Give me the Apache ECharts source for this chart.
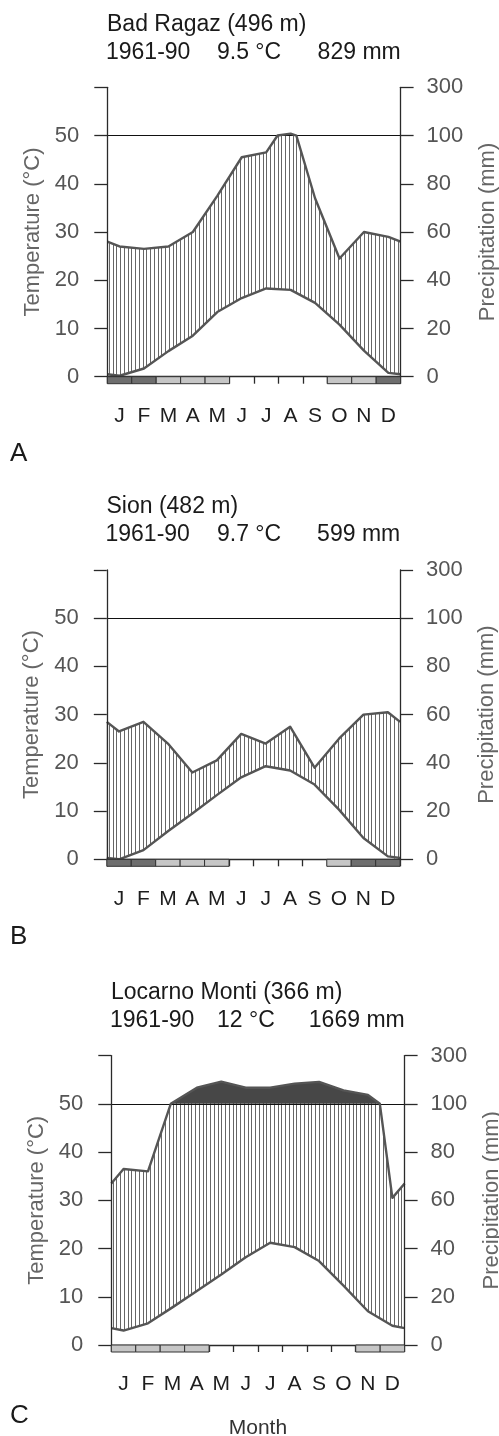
<!DOCTYPE html>
<html>
<head>
<meta charset="utf-8">
<script src="https://cdn.jsdelivr.net/npm/echarts@6/dist/echarts.min.js"></script>
<style>
html,body{margin:0;padding:0;background:#ffffff;overflow:hidden;}
#chart{width:499px;height:1436px;}
</style>
</head>
<body>
<div id="chart"></div>
<script>
// ---------- data ----------
const months = ['J','F','M','A','M','J','J','A','S','O','N','D'];
const leftTickLabels = ['0','10','20','30','40','50',''];
const rightTickLabels = ['0','20','40','60','80','100','300'];

const stationNames = ['Bad Ragaz (496 m)', 'Sion (482 m)', 'Locarno Monti (366 m)'];
const periods = ['1961-90', '1961-90', '1961-90'];
const meanTemps = ['9.5 °C', '9.7 °C', '12 °C'];
const totals = ['829 mm', '599 mm', '1669 mm'];
const panelLetters = ['A', 'B', 'C'];

// monthly mean temperature (°C)
const tempA = [0.2, 1.7, 5.3, 8.5, 13.4, 16.3, 18.3, 18.0, 15.3, 10.8, 5.4, 0.8];
const tempB = [0.0, 1.9, 5.8, 9.5, 13.3, 17.0, 19.3, 18.4, 15.5, 10.3, 4.4, 0.6];
const tempC = [3.0, 4.5, 7.8, 11.2, 14.6, 18.2, 21.2, 20.3, 17.4, 12.3, 7.0, 4.0];

// monthly precipitation (mm)
const precA = [54, 53, 54, 60, 75, 91, 93, 108, 74, 49, 60, 58];
const precB = [53, 57, 48, 36, 41, 52, 48, 55, 38, 50, 60, 61];
const precC = [73, 72, 102, 167, 192, 167, 167, 184, 191, 156, 137, 61];

// frost indicator: 2 = sure frost (dark), 1 = probable frost (light), 0 = none
const frostA = [2, 2, 1, 1, 1, 0, 0, 0, 0, 1, 1, 2];
const frostB = [2, 2, 1, 1, 1, 0, 0, 0, 0, 1, 2, 2];
const frostC = [1, 1, 1, 1, 0, 0, 0, 0, 0, 0, 1, 1];

const panels = [
  {temp: tempA, prec: precA, frost: frostA},
  {temp: tempB, prec: precB, frost: frostB},
  {temp: tempC, prec: precC, frost: frostC}
];

// ---------- layout ----------
const FONT = "'Liberation Sans', Arial, Helvetica, sans-serif";
const layout = [
  {ox: 0,    oy: 0,     letterTop: 441},
  {ox: -0.5, oy: 482.6, letterTop: 924},
  {ox: 4,    oy: 968.3, letterTop: 1403}
];

// ---------- helpers ----------
// Walter-Lieth scale: 0-100 mm -> 0-50 (2 mm per °C), above 100 mm -> 20 mm per °C
function scaleP(p) { return p <= 100 ? p / 2 : 50 + (p - 100) / 20; }

function precipPath(prec) {
  const edge = (prec[0] + prec[11]) / 2;
  const pts = [[0, edge]];
  prec.forEach((v, i) => pts.push([i + 0.5, v]));
  pts.push([12, edge]);
  const out = [];
  for (let k = 0; k < pts.length; k++) {
    if (k > 0) {
      const a = pts[k - 1], b = pts[k];
      if ((a[1] - 100) * (b[1] - 100) < 0) {
        const f = (100 - a[1]) / (b[1] - a[1]);
        out.push([a[0] + f * (b[0] - a[0]), 100]);
      }
    }
    out.push(pts[k]);
  }
  return out.map(p => [p[0], scaleP(p[1])]);
}

function tempPath(t) {
  const edge = (t[0] + t[11]) / 2;
  return [[0, edge]].concat(t.map((v, i) => [i + 0.5, v]), [[12, edge]]);
}

// hatch pattern (vertical lines)
const pat = document.createElement('canvas');
pat.width = 15; pat.height = 4;
const pctx = pat.getContext('2d');
pctx.fillStyle = '#ffffff';
pctx.fillRect(0, 0, 15, 4);
pctx.fillStyle = '#666666';
[0, 4, 8, 11].forEach(x => pctx.fillRect(x, 0, 1, 4));

// ---------- build option ----------
const grids = [], xAxes = [], yAxes = [], series = [], titles = [];
const AX = '#2a2a2a';

panels.forEach((pd, gi) => {
  const L = layout[gi];
  grids.push({left: 107.3 + L.ox, top: 87.3 + L.oy, width: 293.3, height: 289.4,
    containLabel: false, outerBoundsMode: 'none'});

  xAxes.push({
    type: 'value', gridIndex: gi, min: 0, max: 12, interval: 1, z: 10,
    axisLine: {show: true, onZero: false, lineStyle: {color: AX, width: 1.3}},
    axisTick: {show: true, length: 7, lineStyle: {color: AX, width: 1.3}},
    axisLabel: {show: false}, splitLine: {show: false}
  });
  xAxes.push({
    type: 'category', gridIndex: gi, data: months, boundaryGap: true, position: 'bottom',
    axisLine: {show: false}, axisTick: {show: false}, splitLine: {show: false},
    axisLabel: {interval: 0, margin: 29, fontSize: 21, color: '#1e1e1e', fontFamily: FONT},
    name: gi === 2 ? 'Month' : '', nameLocation: 'middle', nameGap: 73,
    nameTextStyle: {fontSize: 21, color: '#333333', fontFamily: FONT}
  });

  yAxes.push({
    type: 'value', gridIndex: gi, position: 'left', min: 0, max: 60, interval: 10, z: 10,
    axisLine: {show: true, lineStyle: {color: AX, width: 1.3}},
    axisTick: {show: true, length: 13, lineStyle: {color: AX, width: 1.3}},
    axisLabel: {margin: 28, fontSize: 22, color: '#555555', fontFamily: FONT,
      formatter: v => leftTickLabels[Math.round(v / 10)]},
    splitLine: {show: false},
    name: 'Temperature (°C)', nameLocation: 'middle', nameGap: 63, nameRotate: 90,
    nameTextStyle: {fontSize: 22, color: '#666666', fontFamily: FONT}
  });
  yAxes.push({
    type: 'value', gridIndex: gi, position: 'right', min: 0, max: 60, interval: 10, z: 10,
    axisLine: {show: true, lineStyle: {color: AX, width: 1.3}},
    axisTick: {show: true, length: 13, lineStyle: {color: AX, width: 1.3}},
    axisLabel: {margin: 26, fontSize: 22, color: '#555555', fontFamily: FONT,
      formatter: v => rightTickLabels[Math.round(v / 10)]},
    splitLine: {show: false},
    name: 'Precipitation (mm)', nameLocation: 'middle', nameGap: 76, nameRotate: 90,
    nameTextStyle: {fontSize: 22, color: '#666666', fontFamily: FONT}
  });

  const xi = gi * 2, yi = gi * 2;
  const pPath = precipPath(pd.prec);
  const pClip = pPath.map(p => [p[0], Math.min(p[1], 50)]);
  const tPath = tempPath(pd.temp);

  const base = {type: 'line', xAxisIndex: xi, yAxisIndex: yi, symbol: 'none', showSymbol: false, silent: true, animation: false};

  series.push(Object.assign({}, base, {
    name: 'excess' + gi, data: pPath, z: 1,
    lineStyle: {width: 0, opacity: 0},
    areaStyle: {color: '#474747', opacity: 1}
  }));
  series.push(Object.assign({}, base, {
    name: 'humid' + gi, data: pClip, z: 2,
    lineStyle: {width: 0, opacity: 0},
    areaStyle: {color: {image: pat, repeat: 'repeat'}, opacity: 1}
  }));
  series.push(Object.assign({}, base, {
    name: 'tempfill' + gi, data: tPath, z: 3,
    lineStyle: {width: 0, opacity: 0},
    areaStyle: {color: '#ffffff', opacity: 1}
  }));
  series.push(Object.assign({}, base, {
    name: 'precip' + gi, data: pPath, z: 5,
    lineStyle: {color: '#555555', width: 2.4, join: 'round'},
    markLine: {
      silent: true, symbol: ['none', 'none'], animation: false,
      label: {show: false},
      lineStyle: {color: '#111111', width: 1.2, type: 'solid'},
      data: [{yAxis: 50}]
    }
  }));
  series.push(Object.assign({}, base, {
    name: 'temp' + gi, data: tPath, z: 5,
    lineStyle: {color: '#555555', width: 2.4, join: 'round'}
  }));
  series.push({
    type: 'custom', xAxisIndex: xi, yAxisIndex: yi, z: 12, silent: true, animation: false, clip: false,
    data: pd.frost.map((f, i) => [i, f]),
    encode: {x: 0, y: 1},
    renderItem: function (params, api) {
      const i = api.value(0), f = api.value(1);
      if (!f) return null;
      const p0 = api.coord([i, 0]), p1 = api.coord([i + 1, 0]);
      return {
        type: 'rect',
        shape: {x: p0[0], y: p0[1], width: p1[0] - p0[0], height: 7},
        style: {fill: f === 2 ? '#6e6e6e' : '#c6c6c6', stroke: '#333333', lineWidth: 1}
      };
    }
  });

  const ts = {fontSize: 23, fontWeight: 'normal', color: '#1a1a1a', fontFamily: FONT};
  titles.push({text: stationNames[gi], left: 107 + L.ox, top: 13 + L.oy, padding: 0, textStyle: ts});
  titles.push({text: periods[gi], left: 106 + L.ox, top: 41 + L.oy, padding: 0, textStyle: ts});
  titles.push({text: meanTemps[gi], left: 217, top: 41 + L.oy, padding: 0, textStyle: ts});
  titles.push({text: totals[gi], right: 98.3 - L.ox, top: 41 + L.oy, padding: 0, textStyle: ts});
  titles.push({text: panelLetters[gi], left: 10, top: L.letterTop, padding: 0,
    textStyle: {fontSize: 26, fontWeight: 'normal', color: '#1a1a1a', fontFamily: FONT}});
});

const chart = echarts.init(document.getElementById('chart'), null, {renderer: 'canvas'});
chart.setOption({
  animation: false,
  backgroundColor: '#ffffff',
  title: titles,
  grid: grids,
  xAxis: xAxes,
  yAxis: yAxes,
  series: series
});
</script>
</body>
</html>
